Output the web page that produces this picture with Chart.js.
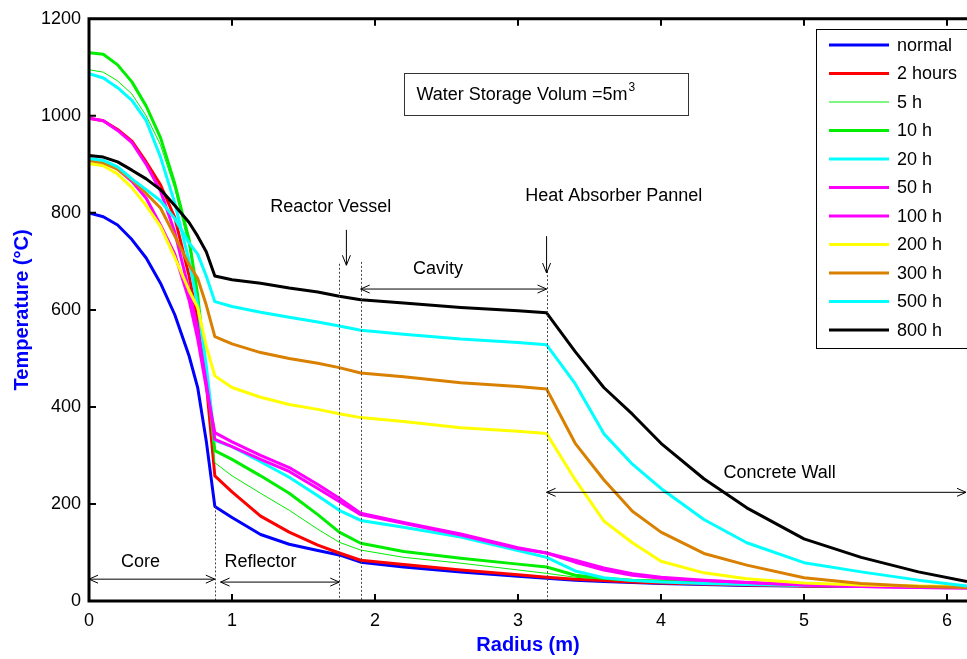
<!DOCTYPE html>
<html>
<head>
<meta charset="utf-8">
<script src="https://cdn.jsdelivr.net/npm/chart.js@4.4.1/dist/chart.umd.min.js"></script>
<style>
  html, body { margin: 0; padding: 0; background: #fff; }
  canvas { display: block; }
</style>
</head>
<body>
<canvas id="tempChart" width="967" height="659"></canvas>
<script>
// radius grid (m)
const radius = [0, 0.1, 0.2, 0.3, 0.4, 0.5, 0.6, 0.7, 0.76, 0.82, 0.88, 1.0, 1.2, 1.4, 1.6, 1.75, 1.9, 2.2, 2.6, 3.0, 3.2, 3.4, 3.6, 3.8, 4.0, 4.3, 4.6, 5.0, 5.4, 5.8, 6.14];

// temperature profiles (°C)
const tNormal = [800, 792, 775, 745, 707, 655, 590, 505, 440, 330, 195, 172, 137, 117, 104, 95, 80, 70, 60, 51, 47, 43, 40, 38, 36, 34, 32, 31, 30, 30, 30];
const t2h   = [995, 990, 972, 948, 905, 858, 790, 670, 580, 450, 258, 225, 175, 142, 115, 99, 84, 75, 64, 54, 49, 45, 42, 39, 37, 35, 33, 31, 30, 30, 29];
const t5h   = [1095, 1090, 1072, 1045, 1000, 940, 850, 730, 630, 480, 285, 258, 222, 187, 148, 121, 105, 90, 78, 64, 57, 49, 45, 41, 39, 36, 34, 32, 31, 30, 30];
const t10h  = [1130, 1127, 1105, 1070, 1020, 955, 860, 745, 630, 470, 310, 292, 258, 222, 178, 142, 119, 102, 88, 76, 70, 53, 47, 43, 41, 38, 35, 33, 31, 30, 30];
const t20h  = [1087, 1078, 1058, 1032, 990, 915, 820, 700, 610, 485, 331, 318, 287, 255, 217, 187, 166, 152, 132, 104, 90, 62, 48, 42, 39, 36, 34, 32, 31, 30, 30];
const t50h  = [912, 905, 890, 865, 830, 775, 715, 620, 540, 440, 347, 328, 300, 275, 240, 212, 181, 162, 138, 110, 99, 80, 64, 53, 47, 42, 38, 33, 30, 28, 27];
const t100h = [995, 990, 970, 945, 900, 845, 760, 640, 560, 450, 333, 318, 292, 267, 232, 205, 178, 160, 136, 108, 99, 84, 68, 56, 49, 43, 38, 33, 30, 28, 27];
const t200h = [902, 897, 880, 852, 815, 772, 708, 640, 605, 525, 464, 440, 420, 405, 395, 386, 378, 370, 357, 350, 345, 250, 165, 120, 82, 58, 46, 37, 33, 31, 30];
const t300h = [908, 903, 890, 868, 840, 810, 752, 693, 665, 610, 545, 530, 512, 500, 490, 481, 470, 462, 450, 442, 437, 325, 250, 185, 142, 98, 74, 48, 36, 30, 28];
const t500h = [912, 908, 895, 870, 848, 825, 788, 738, 715, 670, 617, 607, 595, 585, 575, 567, 558, 550, 540, 533, 528, 448, 345, 282, 232, 168, 120, 79, 60, 43, 31];
const t800h = [918, 915, 905, 888, 870, 848, 815, 780, 752, 720, 670, 662, 655, 645, 637, 628, 621, 614, 605, 598, 594, 514, 440, 385, 325, 252, 192, 128, 90, 60, 40];

const seriesLabels = ['normal', '2 hours', '5 h', '10 h', '20 h', '50 h', '100 h', '200 h', '300 h', '500 h', '800 h'];
const seriesValues = [tNormal, t2h, t5h, t10h, t20h, t50h, t100h, t200h, t300h, t500h, t800h];
const seriesColors = ['#0000ff', '#ff0000', '#00ee00', '#00ee00', '#00ffff', '#ff00ff', '#ff00ff', '#ffff00', '#d98000', '#00ffff', '#000000'];
const seriesWidths = [3, 3, 1, 3, 3, 3, 3, 3, 3, 3, 3];

const xTicks = [0, 1, 2, 3, 4, 5, 6];
const yTicks = [0, 200, 400, 600, 800, 1000, 1200];

// region boundaries (m) and the temperature where each dotted line starts
const boundaryX = [0.88, 1.75, 1.9, 3.2];
const boundaryTop = [195, 695, 699, 680];

const FONT = '"Liberation Sans", Arial, Helvetica, sans-serif';

function arrowHead(ctx, x, y, dir, horiz) {
    // open V arrow head pointing in direction dir (+1/-1)
    ctx.beginPath();
    if (horiz) {
        ctx.moveTo(x - dir * 9, y - 4);
        ctx.lineTo(x, y);
        ctx.lineTo(x - dir * 9, y + 4);
    } else {
        ctx.moveTo(x - 4, y - dir * 10);
        ctx.lineTo(x, y);
        ctx.lineTo(x + 4, y - dir * 10);
    }
    ctx.stroke();
}

function hArrow(ctx, x1, x2, y, left, right) {
    ctx.beginPath();
    ctx.moveTo(x1, y);
    ctx.lineTo(x2, y);
    ctx.stroke();
    if (left) arrowHead(ctx, x1, y, -1, true);
    if (right) arrowHead(ctx, x2, y, 1, true);
}

const decorPlugin = {
    id: 'decor',
    afterDraw(chart) {
        const { ctx, chartArea: a } = chart;
        const xs = chart.scales.x, ys = chart.scales.y;
        const px = v => xs.getPixelForValue(v);
        const py = v => ys.getPixelForValue(v);
        ctx.save();

        // dotted region boundaries
        ctx.strokeStyle = '#444';
        ctx.lineWidth = 1;
        ctx.setLineDash([2, 2]);
        boundaryX.forEach((bx, i) => {
            const x = Math.round(px(bx)) + 0.5;
            ctx.beginPath();
            ctx.moveTo(x, py(boundaryTop[i]));
            ctx.lineTo(x, a.bottom);
            ctx.stroke();
        });
        ctx.setLineDash([]);

        // axes frame (left, bottom, top)
        ctx.strokeStyle = '#000';
        ctx.lineWidth = 3;
        ctx.beginPath();
        ctx.moveTo(a.right, a.top);
        ctx.lineTo(a.left, a.top);
        ctx.lineTo(a.left, a.bottom);
        ctx.lineTo(a.right, a.bottom);
        ctx.stroke();

        // inward ticks
        ctx.lineWidth = 2;
        ctx.beginPath();
        xTicks.slice(1).forEach(t => {
            const x = px(t);
            ctx.moveTo(x, a.bottom); ctx.lineTo(x, a.bottom - 7);
            ctx.moveTo(x, a.top); ctx.lineTo(x, a.top + 7);
        });
        yTicks.slice(1, -1).forEach(t => {
            const y = py(t);
            ctx.moveTo(a.left, y); ctx.lineTo(a.left + 7, y);
        });
        ctx.stroke();

        // annotations
        ctx.lineWidth = 1;
        ctx.strokeStyle = '#000';
        ctx.fillStyle = '#000';
        ctx.font = '18px ' + FONT;
        ctx.textAlign = 'center';
        ctx.textBaseline = 'middle';

        ctx.fillText('Core', px(0.36), py(80));
        hArrow(ctx, px(0), px(0.88), py(45), true, true);
        ctx.fillText('Reflector', px(1.2), py(80));
        hArrow(ctx, px(0.92), px(1.75), py(39), true, true);

        ctx.fillText('Reactor Vessel', px(1.69), py(812));
        ctx.beginPath();
        ctx.moveTo(px(1.8), py(765)); ctx.lineTo(px(1.8), py(692));
        ctx.stroke();
        arrowHead(ctx, px(1.8), py(692), 1, false);

        ctx.fillText('Cavity', px(2.44), py(684));
        hArrow(ctx, px(1.9), px(3.2), py(643), true, true);

        ctx.fillText('Heat Absorber Pannel', px(3.67), py(834));
        ctx.beginPath();
        ctx.moveTo(px(3.2), py(752)); ctx.lineTo(px(3.2), py(676));
        ctx.stroke();
        arrowHead(ctx, px(3.2), py(676), 1, false);

        ctx.fillText('Concrete Wall', px(4.83), py(263));
        hArrow(ctx, px(3.2), a.right - 1, py(224), true, true);

        // water storage box
        const bx1 = Math.round(px(2.2)) + 0.5, bx2 = Math.round(px(4.19)) + 0.5;
        const by1 = Math.round(py(1089)) + 0.5, by2 = Math.round(py(1001)) + 0.5;
        ctx.fillStyle = '#fff';
        ctx.fillRect(bx1, by1, bx2 - bx1, by2 - by1);
        ctx.strokeStyle = '#333';
        ctx.strokeRect(bx1, by1, bx2 - bx1, by2 - by1);
        ctx.fillStyle = '#000';
        ctx.textAlign = 'left';
        const boxText = 'Water Storage Volum =5m';
        const ty = (by1 + by2) / 2 + 1;
        ctx.fillText(boxText, bx1 + 12, ty);
        const tw = ctx.measureText(boxText).width;
        ctx.font = '12px ' + FONT;
        ctx.fillText('3', bx1 + 13 + tw, ty - 8);

        // legend
        const lx = 816.5, ly = 29.5, lw = 160, lh = 319;
        ctx.fillStyle = '#fff';
        ctx.fillRect(lx, ly, lw, lh);
        ctx.strokeStyle = '#000';
        ctx.lineWidth = 1;
        ctx.strokeRect(lx, ly, lw, lh);
        ctx.font = '18px ' + FONT;
        ctx.textAlign = 'left';
        chart.data.datasets.forEach((ds, i) => {
            const rowY = 45 + i * 28.5;
            ctx.strokeStyle = ds.borderColor;
            ctx.lineWidth = ds.borderWidth;
            ctx.beginPath();
            ctx.moveTo(829, rowY); ctx.lineTo(889, rowY);
            ctx.stroke();
            ctx.fillStyle = '#000';
            ctx.fillText(ds.label, 897, rowY + 1);
        });

        ctx.restore();
    }
};

const datasets = seriesLabels.map((label, i) => ({
    label: label,
    data: radius.map((r, k) => ({ x: r, y: seriesValues[i][k] })),
    borderColor: seriesColors[i],
    backgroundColor: seriesColors[i],
    borderWidth: seriesWidths[i],
    pointRadius: 0,
    tension: 0,
    borderJoinStyle: 'round',
    fill: false,
    order: seriesLabels.length - i
}));

new Chart(document.getElementById('tempChart'), {
    type: 'line',
    data: { datasets: datasets },
    options: {
        responsive: false,
        animation: false,
        layout: { padding: { top: 17, left: 0, right: 0, bottom: 0 } },
        plugins: {
            legend: { display: false },
            tooltip: { enabled: false }
        },
        scales: {
            x: {
                type: 'linear',
                min: 0,
                max: 6.14,
                grid: { display: false, drawTicks: false },
                border: { display: false },
                ticks: {
                    stepSize: 1,
                    includeBounds: false,
                    autoSkip: false,
                    padding: 9,
                    color: '#000',
                    font: { family: FONT, size: 18 },
                    maxRotation: 0,
                    callback: v => String(v)
                },
                title: {
                    display: true,
                    text: 'Radius (m)',
                    color: '#0000ff',
                    font: { family: FONT, size: 20, weight: 'bold' },
                    padding: { top: 0, bottom: 2 }
                },
                afterFit: scale => { scale.height = 58; }
            },
            y: {
                min: 0,
                max: 1200,
                grid: { display: false, drawTicks: false },
                border: { display: false },
                ticks: {
                    stepSize: 200,
                    padding: 8,
                    color: '#000',
                    font: { family: FONT, size: 18 },
                    callback: v => String(v)
                },
                title: {
                    display: true,
                    text: 'Temperature (°C)',
                    color: '#0000ff',
                    font: { family: FONT, size: 20, weight: 'bold' },
                    padding: { top: 10, bottom: 0 }
                },
                afterFit: scale => { scale.width = 89; }
            }
        }
    },
    plugins: [decorPlugin]
});
</script>
</body>
</html>
